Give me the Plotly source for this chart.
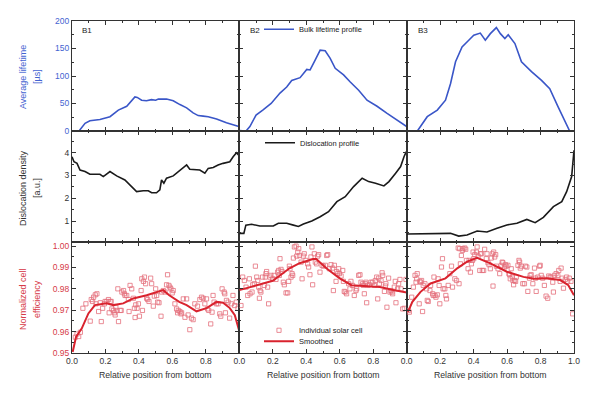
import plotly.graph_objects as go
from plotly.subplots import make_subplots

# ---------------- data ----------------
# Average bulk lifetime [µs] vs relative position from bottom
life_x_b1 = [0.042, 0.078, 0.107, 0.167, 0.227, 0.277, 0.327, 0.356, 0.376, 0.39, 0.416, 0.445, 0.475,
             0.5, 0.516, 0.565, 0.605, 0.645, 0.685, 0.724, 0.754, 0.784, 0.814, 0.864, 0.923, 0.997]
life_b1 = [0, 14, 18.7, 21, 26, 38, 45, 56, 62, 61, 56, 55, 57, 56, 58, 58, 55, 48, 42, 33, 28, 27, 26, 22, 15, 8]

life_x_b2 = [0, 0.02, 0.04, 0.063, 0.1, 0.14, 0.19, 0.243, 0.283, 0.313, 0.363, 0.403, 0.423, 0.453,
             0.483, 0.513, 0.543, 0.573, 0.623, 0.663, 0.713, 0.763, 0.823, 0.883, 0.943, 1.0]
life_b2 = [1, 0, 0, 8, 29, 38, 50, 69, 80, 92, 97, 112, 111, 129, 147, 146, 132, 114, 102, 89, 74, 56, 45, 32, 20, 8]

life_x_b3 = [0, 0.064, 0.123, 0.183, 0.232, 0.262, 0.292, 0.331, 0.371, 0.401, 0.44, 0.47, 0.5, 0.536,
             0.56, 0.587, 0.607, 0.647, 0.686, 0.746, 0.806, 0.855, 0.905, 0.944, 0.974, 0.985]
life_b3 = [0, 0, 26, 38, 56, 86, 126, 153, 165, 174, 178, 165, 177, 188, 177, 168, 175, 159, 126, 108,
           92, 77, 44, 20, 0, 0]

# Dislocation density [a.u.]
disl_x_b1 = [0, 0.012, 0.03, 0.048, 0.078, 0.107, 0.167, 0.187, 0.227, 0.267, 0.316, 0.356, 0.386, 0.426,
             0.456, 0.476, 0.505, 0.525, 0.535, 0.549, 0.565, 0.605, 0.655, 0.685, 0.704, 0.764, 0.794,
             0.814, 0.844, 0.873, 0.903, 0.943, 0.963, 0.983, 0.995]
disl_b1 = [3.82, 3.6, 3.53, 3.24, 3.17, 3.05, 3.05, 2.95, 3.17, 2.98, 2.8, 2.51, 2.29, 2.33, 2.33, 2.24,
           2.24, 2.37, 2.8, 2.66, 2.88, 2.98, 3.27, 3.46, 3.27, 3.24, 3.1, 3.31, 3.35, 3.46, 3.53, 3.6,
           3.82, 4.0, 3.9]

disl_x_b2 = [0, 0.027, 0.039, 0.073, 0.123, 0.203, 0.233, 0.283, 0.323, 0.353, 0.383, 0.433, 0.483,
             0.533, 0.583, 0.633, 0.683, 0.734, 0.773, 0.814, 0.864, 0.894, 0.934, 0.964, 0.984, 0.998]
disl_b2 = [0.46, 0.46, 0.82, 0.86, 0.78, 0.78, 0.9, 0.9, 0.82, 0.76, 0.87, 1.0, 1.19, 1.41, 1.85, 2.07,
           2.51, 2.88, 2.73, 2.66, 2.54, 2.73, 3.1, 3.39, 3.82, 4.05]

disl_x_b3 = [0, 0.22, 0.262, 0.311, 0.361, 0.421, 0.48, 0.54, 0.599, 0.659, 0.718, 0.768, 0.817, 0.877,
             0.927, 0.956, 0.986, 1.0]
disl_b3 = [0.43, 0.43, 0.46, 0.34, 0.39, 0.56, 0.52, 0.68, 0.83, 0.9, 1.07, 0.93, 1.16, 1.63, 1.85, 2.29,
           2.95, 4.1]

# Normalized cell efficiency: smoothed curve
sm_x_b1 = [0.004, 0.024, 0.058, 0.098, 0.137, 0.207, 0.247, 0.306, 0.366, 0.446, 0.545, 0.581, 0.641,
           0.685, 0.744, 0.804, 0.864, 0.903, 0.943, 0.973, 0.997]
sm_b1 = [0.9505, 0.9575, 0.9614, 0.9685, 0.9724, 0.9733, 0.9724, 0.9732, 0.9755, 0.977, 0.9794, 0.977,
         0.9739, 0.9724, 0.9695, 0.971, 0.9739, 0.9735, 0.971, 0.9677, 0.961]

sm_x_b2 = [0, 0.1, 0.2, 0.3, 0.36, 0.44, 0.46, 0.52, 0.6, 0.67, 0.74, 0.84, 0.92, 1.0]
sm_b2 = [0.9794, 0.9817, 0.9838, 0.9896, 0.992, 0.9939, 0.9939, 0.9896, 0.9849, 0.9817, 0.9814, 0.9809,
         0.9795, 0.9783]

sm_x_b3 = [0.008, 0.034, 0.083, 0.143, 0.232, 0.302, 0.361, 0.421, 0.5, 0.599, 0.698, 0.758, 0.837,
           0.917, 0.966, 1.0]
sm_b3 = [0.9692, 0.9739, 0.9786, 0.9825, 0.9849, 0.9896, 0.9927, 0.9945, 0.9919, 0.988, 0.9856, 0.9847,
         0.985, 0.9841, 0.9817, 0.977]

# Normalized cell efficiency: individual solar cells
cell_x_b1 = [0.020, 0.030, 0.040, 0.050, 0.065, 0.083, 0.109, 0.115, 0.123, 0.129, 0.139, 0.143, 0.149,
             0.159, 0.169, 0.175, 0.183, 0.194, 0.198, 0.208, 0.218, 0.222, 0.228, 0.234, 0.238, 0.248,
             0.254, 0.258, 0.262, 0.268, 0.274, 0.278, 0.288, 0.294, 0.298, 0.308, 0.313, 0.317, 0.327,
             0.337, 0.341, 0.347, 0.357, 0.367, 0.373, 0.377, 0.381, 0.389, 0.397, 0.403, 0.413, 0.417,
             0.421, 0.427, 0.433, 0.440, 0.446, 0.452, 0.460, 0.470, 0.476, 0.486, 0.492, 0.500, 0.506,
             0.512, 0.520, 0.532, 0.536, 0.546, 0.556, 0.565, 0.571, 0.579, 0.585, 0.591, 0.599, 0.605,
             0.615, 0.625, 0.631, 0.635, 0.645, 0.651, 0.655, 0.665, 0.675, 0.685, 0.694, 0.704, 0.714,
             0.724, 0.734, 0.750, 0.764, 0.774, 0.784, 0.794, 0.804, 0.810, 0.817, 0.829, 0.837, 0.843,
             0.849, 0.863, 0.873, 0.883, 0.889, 0.897, 0.909, 0.913, 0.917, 0.923, 0.933, 0.942, 0.952,
             0.962, 0.972, 0.982, 0.992]
cell_b1 = [0.9574, 0.9589, 0.9577, 0.9597, 0.9709, 0.9730, 0.9649, 0.9750, 0.9741, 0.9761, 0.9772, 0.9730,
           0.9777, 0.9694, 0.9735, 0.9647, 0.9709, 0.9730, 0.9741, 0.9741, 0.9750, 0.9688, 0.9741, 0.9741,
           0.9706, 0.9699, 0.9688, 0.9678, 0.9714, 0.9699, 0.9800, 0.9647, 0.9699, 0.9699, 0.9785, 0.9792,
           0.9777, 0.9769, 0.9769, 0.9750, 0.9694, 0.9816, 0.9800, 0.9756, 0.9709, 0.9666, 0.9725, 0.9709,
           0.9730, 0.9672, 0.9792, 0.9847, 0.9699, 0.9835, 0.9855, 0.9824, 0.9756, 0.9750, 0.9741, 0.9850,
           0.9824, 0.9719, 0.9766, 0.9800, 0.9769, 0.9738, 0.9735, 0.9672, 0.9785, 0.9792, 0.9785, 0.9819,
           0.9866, 0.9816, 0.9808, 0.9800, 0.9781, 0.9792, 0.9730, 0.9706, 0.9688, 0.9699, 0.9694, 0.9683,
           0.9688, 0.9753, 0.9667, 0.9753, 0.9678, 0.9609, 0.9663, 0.9656, 0.9730, 0.9719, 0.9750, 0.9761,
           0.9756, 0.9730, 0.9753, 0.9706, 0.9699, 0.9636, 0.9691, 0.9769, 0.9738, 0.9730, 0.9730, 0.9683,
           0.9672, 0.9800, 0.9785, 0.9777, 0.9688, 0.9746, 0.9738, 0.9663, 0.9730, 0.9769, 0.9722, 0.9738,
           0.9709]

cell_x_b2 = [0.010, 0.020, 0.030, 0.040, 0.050, 0.060, 0.064, 0.076, 0.080, 0.090, 0.096, 0.104, 0.110,
             0.116, 0.120, 0.124, 0.129, 0.139, 0.149, 0.155, 0.159, 0.163, 0.169, 0.175, 0.183, 0.189,
             0.199, 0.209, 0.219, 0.229, 0.235, 0.239, 0.243, 0.249, 0.255, 0.263, 0.269, 0.279, 0.289,
             0.295, 0.299, 0.303, 0.309, 0.315, 0.319, 0.323, 0.329, 0.339, 0.343, 0.349, 0.355, 0.359,
             0.369, 0.375, 0.382, 0.388, 0.398, 0.408, 0.414, 0.422, 0.428, 0.434, 0.438, 0.448, 0.454,
             0.462, 0.468, 0.474, 0.482, 0.494, 0.502, 0.514, 0.522, 0.528, 0.538, 0.548, 0.558, 0.562,
             0.568, 0.578, 0.582, 0.588, 0.594, 0.598, 0.608, 0.618, 0.622, 0.627, 0.633, 0.641, 0.653,
             0.661, 0.667, 0.677, 0.687, 0.697, 0.701, 0.713, 0.721, 0.727, 0.737, 0.741, 0.747, 0.753,
             0.757, 0.761, 0.767, 0.777, 0.787, 0.797, 0.807, 0.813, 0.821, 0.827, 0.833, 0.837, 0.847,
             0.853, 0.857, 0.867, 0.873, 0.876, 0.882, 0.892, 0.900, 0.906, 0.912, 0.916, 0.926, 0.932,
             0.936, 0.946, 0.952, 0.960, 0.966, 0.976, 0.986, 0.996]
cell_b2 = [0.9722, 0.9855, 0.9839, 0.9808, 0.9769, 0.9847, 0.9777, 0.9785, 0.9819, 0.9824, 0.9906, 0.9855,
           0.9839, 0.9808, 0.9756, 0.9792, 0.9785, 0.9855, 0.9816, 0.9855, 0.9871, 0.9881, 0.9808, 0.9730,
           0.9855, 0.9863, 0.9847, 0.9863, 0.9844, 0.9878, 0.9886, 0.9863, 0.9941, 0.9891, 0.9881, 0.9831,
           0.9819, 0.9781, 0.9781, 0.9835, 0.9906, 0.9894, 0.9855, 0.9871, 0.9863, 0.9944, 0.9996, 1.0000,
           0.9953, 0.9972, 0.9988, 0.9956, 0.9925, 0.9847, 0.9953, 0.9964, 0.9933, 0.9917, 0.9902, 0.9866,
           0.9949, 0.9996, 0.9819, 0.9964, 0.9925, 0.9917, 0.9953, 0.9960, 0.9878, 0.9910, 0.9906, 0.9910,
           0.9956, 0.9960, 0.9894, 0.9913, 0.9897, 0.9792, 0.9910, 0.9835, 0.9881, 0.9871, 0.9894, 0.9871,
           0.9860, 0.9886, 0.9835, 0.9788, 0.9785, 0.9777, 0.9824, 0.9800, 0.9835, 0.9816, 0.9769, 0.9792,
           0.9800, 0.9863, 0.9866, 0.9831, 0.9824, 0.9816, 0.9777, 0.9824, 0.9831, 0.9735, 0.9816, 0.9819,
           0.9831, 0.9831, 0.9816, 0.9839, 0.9855, 0.9753, 0.9850, 0.9824, 0.9839, 0.9875, 0.9863, 0.9788,
           0.9813, 0.9824, 0.9714, 0.9850, 0.9785, 0.9792, 0.9785, 0.9777, 0.9808, 0.9835, 0.9735, 0.9800,
           0.9824, 0.9844, 0.9800, 0.9706, 0.9709, 0.9844]

cell_x_b3 = [0.010, 0.016, 0.030, 0.040, 0.050, 0.056, 0.060, 0.063, 0.075, 0.079, 0.083, 0.089, 0.095,
             0.099, 0.109, 0.119, 0.123, 0.129, 0.139, 0.143, 0.155, 0.159, 0.163, 0.169, 0.175, 0.183,
             0.188, 0.194, 0.198, 0.208, 0.214, 0.218, 0.228, 0.234, 0.238, 0.248, 0.258, 0.268, 0.274,
             0.288, 0.298, 0.308, 0.313, 0.317, 0.321, 0.327, 0.333, 0.337, 0.347, 0.353, 0.357, 0.367,
             0.373, 0.381, 0.387, 0.393, 0.397, 0.401, 0.407, 0.417, 0.421, 0.427, 0.437, 0.440, 0.446,
             0.452, 0.460, 0.466, 0.476, 0.480, 0.486, 0.492, 0.500, 0.506, 0.512, 0.516, 0.520, 0.526,
             0.532, 0.536, 0.546, 0.556, 0.565, 0.571, 0.575, 0.585, 0.591, 0.595, 0.605, 0.611, 0.615,
             0.619, 0.625, 0.631, 0.635, 0.639, 0.645, 0.651, 0.655, 0.665, 0.671, 0.675, 0.679, 0.685,
             0.694, 0.704, 0.710, 0.718, 0.724, 0.734, 0.738, 0.744, 0.754, 0.764, 0.770, 0.774, 0.784,
             0.794, 0.798, 0.804, 0.813, 0.823, 0.833, 0.843, 0.849, 0.857, 0.863, 0.873, 0.877, 0.883,
             0.893, 0.903, 0.909, 0.917, 0.923, 0.929, 0.937, 0.948, 0.956, 0.962, 0.972, 0.982, 0.992]
cell_b3 = [0.9699, 0.9691, 0.9761, 0.9808, 0.9863, 0.9831, 0.9847, 0.9871, 0.9730, 0.9835, 0.9831, 0.9839,
           0.9694, 0.9816, 0.9824, 0.9800, 0.9746, 0.9741, 0.9792, 0.9816, 0.9777, 0.9769, 0.9855, 0.9769,
           0.9761, 0.9772, 0.9847, 0.9816, 0.9730, 0.9902, 0.9941, 0.9800, 0.9800, 0.9769, 0.9753, 0.9816,
           0.9871, 0.9906, 0.9808, 0.9847, 0.9839, 0.9991, 0.9824, 0.9988, 0.9917, 0.9956, 0.9980, 0.9988,
           0.9991, 0.9985, 0.9933, 0.9894, 0.9933, 0.9878, 0.9917, 0.9933, 0.9972, 0.9941, 0.9960, 0.9972,
           0.9996, 0.9953, 0.9886, 0.9964, 0.9964, 0.9886, 0.9886, 0.9985, 0.9941, 0.9964, 0.9922, 0.9913,
           0.9894, 0.9944, 0.9964, 0.9813, 0.9972, 0.9949, 0.9960, 0.9906, 0.9894, 0.9871, 0.9910, 0.9925,
           0.9922, 0.9902, 0.9913, 0.9906, 0.9910, 0.9871, 0.9866, 0.9847, 0.9894, 0.9855, 0.9839, 0.9819,
           0.9839, 0.9835, 0.9855, 0.9910, 0.9933, 0.9925, 0.9897, 0.9906, 0.9824, 0.9824, 0.9906, 0.9902,
           0.9788, 0.9850, 0.9863, 0.9866, 0.9824, 0.9897, 0.9850, 0.9788, 0.9855, 0.9906, 0.9910, 0.9863,
           0.9850, 0.9816, 0.9766, 0.9756, 0.9860, 0.9855, 0.9855, 0.9831, 0.9785, 0.9863, 0.9871, 0.9863,
           0.9886, 0.9835, 0.9897, 0.9850, 0.9803, 0.9844, 0.9855, 0.9835, 0.9850, 0.9835, 0.9683]

panel_labels = ["B1", "B2", "B3"]
x_ticks = [0, 0.2, 0.4, 0.6, 0.8, 1.0]

# ---------------- style ----------------
FONT = "Liberation Sans, Arial, sans-serif"
BLUE = "#3a56c8"
BLUE_T = "#4463d1"
RED = "#d9232e"
RED_T = "#d63a48"
RED_M = "#e5707c"
BLACK = "#1a1a1a"
AX = "#333333"

fig = make_subplots(rows=3, cols=3, horizontal_spacing=0, vertical_spacing=0)

life_x = [life_x_b1, life_x_b2, life_x_b3]
life_y = [life_b1, life_b2, life_b3]
disl_x = [disl_x_b1, disl_x_b2, disl_x_b3]
disl_y = [disl_b1, disl_b2, disl_b3]
sm_x = [sm_x_b1, sm_x_b2, sm_x_b3]
sm_y = [sm_b1, sm_b2, sm_b3]
cell_x = [cell_x_b1, cell_x_b2, cell_x_b3]
cell_y = [cell_b1, cell_b2, cell_b3]

for c in range(3):
    show = (c == 1)
    fig.add_trace(go.Scatter(x=life_x[c], y=life_y[c], mode="lines", line=dict(color=BLUE, width=1.6),
                             name="Bulk lifetime profile", showlegend=show, legend="legend"),
                  row=1, col=c + 1)
    fig.add_trace(go.Scatter(x=disl_x[c], y=disl_y[c], mode="lines", line=dict(color=BLACK, width=1.6),
                             name="Dislocation profile", showlegend=show, legend="legend2"),
                  row=2, col=c + 1)
    fig.add_trace(go.Scatter(x=cell_x[c], y=cell_y[c], mode="markers",
                             marker=dict(symbol="square-open", size=4.2, color=RED_M, line=dict(width=0.8)),
                             name="Individual solar cell", showlegend=show, legend="legend3"),
                  row=3, col=c + 1)
    fig.add_trace(go.Scatter(x=sm_x[c], y=sm_y[c], mode="lines", line=dict(color=RED, width=2),
                             name="Smoothed", showlegend=show, legend="legend4"),
                  row=3, col=c + 1)

common = dict(showline=True, linecolor=AX, linewidth=1, mirror="allticks", ticks="inside",
              ticklen=4, tickwidth=1, tickcolor=AX, showgrid=False, zeroline=False,
              tickfont=dict(family=FONT, size=8.5, color=AX))

col_dom = [[0, 1 / 3], [1 / 3, 2 / 3], [2 / 3, 1]]
row_dom = [[0.6687, 1.0], [0.3343, 0.6687], [0.0, 0.3343]]

for r in range(3):
    for c in range(3):
        idx = r * 3 + c + 1
        xa = "xaxis" if idx == 1 else f"xaxis{idx}"
        ya = "yaxis" if idx == 1 else f"yaxis{idx}"
        xlab = [f"{v:.1f}" for v in x_ticks]
        if c < 2:
            xlab[-1] = ""
        fig.layout[xa].update(common, domain=col_dom[c], range=[0, 1], tickvals=x_ticks, ticktext=xlab,
                              showticklabels=(r == 2),
                              minor=dict(dtick=0.1, ticks="inside", ticklen=2, tickcolor=AX))
        if r == 0:
            yd = dict(range=[0, 200], tickvals=[0, 50, 100, 150, 200],
                      minor=dict(dtick=25, ticks="inside", ticklen=2, tickcolor=AX),
                      tickfont=dict(family=FONT, size=8.5, color=BLUE_T))
        elif r == 1:
            yd = dict(range=[0.08, 4.95], tickvals=[1, 2, 3, 4],
                      minor=dict(tickvals=[0.5, 1.5, 2.5, 3.5, 4.5], ticks="inside", ticklen=2, tickcolor=AX),
                      tickfont=dict(family=FONT, size=8.5, color=AX))
        else:
            yd = dict(range=[0.95, 1.0019], tickvals=[0.95, 0.96, 0.97, 0.98, 0.99, 1.0], tickformat=".2f",
                      minor=dict(dtick=0.005, ticks="inside", ticklen=2, tickcolor=AX),
                      tickfont=dict(family=FONT, size=8.5, color=RED_T))
        fig.layout[ya].update(common)
        fig.layout[ya].update(yd, domain=row_dom[r], showticklabels=(c == 0))

ann = []
for c, lab in enumerate(panel_labels):
    ann.append(dict(text=lab, x=[0.0159, 0.3506, 0.6853][c], y=0.9699, xref="paper", yref="paper",
                    xanchor="left", yanchor="middle", showarrow=False,
                    font=dict(family=FONT, size=8, color=BLACK)))
    ann.append(dict(text="Relative position from bottom", x=(2 * c + 1) / 6, y=-0.0663, xref="paper",
                    yref="paper", xanchor="center", yanchor="middle", showarrow=False,
                    font=dict(family=FONT, size=8.7, color=AX)))
ytitles = [("Average lifetime", "[µs]", 0.8313, BLUE_T),
           ("Dislocation density", "[a.u.]", 0.497, AX),
           ("Normalized cell", "efficiency", 0.1627, RED_T)]
for t1, t2, yy, col in ytitles:
    for t, px in ((t1, 23), (t2, 37)):
        ann.append(dict(text=t, x=(px - 72) / 502, y=yy, xref="paper", yref="paper", xanchor="center",
                        yanchor="middle", textangle=-90, showarrow=False,
                        font=dict(family=FONT, size=9, color=col)))

leg = dict(bgcolor="rgba(0,0,0,0)", borderwidth=0, xanchor="left", yanchor="middle",
           font=dict(family=FONT, size=7.5, color=BLACK), itemwidth=30, tracegroupgap=0)

# page body has an 8px default margin, so the margins are offset accordingly
fig.update_layout(
    width=600, height=397,
    margin=dict(l=64, r=34, t=13, b=52, autoexpand=False),
    paper_bgcolor="white", plot_bgcolor="white",
    font=dict(family=FONT, color=AX),
    annotations=ann,
    legend=dict(leg, x=0.3725, y=0.975),
    legend2=dict(leg, x=0.3745, y=0.6334),
    legend3=dict(leg, x=0.3725, y=0.0684),
    legend4=dict(leg, x=0.3725, y=0.0352),
)

fig.write_html("out.html")
